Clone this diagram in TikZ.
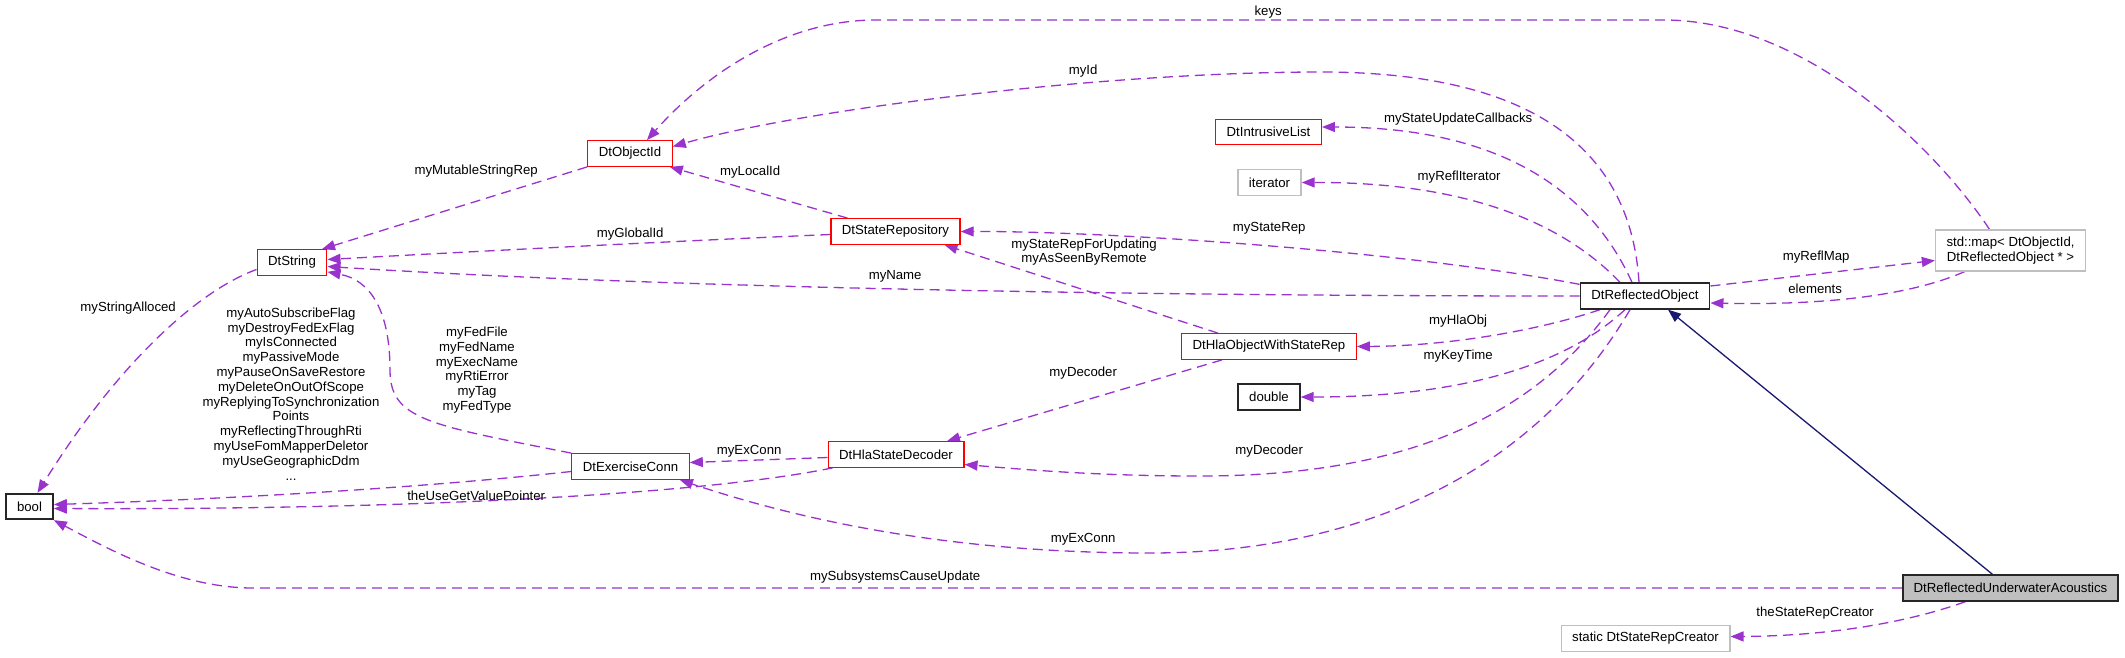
\documentclass[tikz,border=0pt]{standalone}
\usepackage{fontspec}
\setmainfont{Liberation Sans}
\usepackage{tikz}
\usetikzlibrary{arrows.meta,positioning,calc}
\pgfdeclarelayer{bg}
\pgfsetlayers{bg,main}
\definecolor{usecol}{RGB}{154,50,205}
\definecolor{inhcol}{RGB}{25,25,112}
\definecolor{graycol}{RGB}{191,191,191}

\begin{document}
\begin{tikzpicture}[x=1pt,y=-1pt,
    every node/.style={font=\fontsize{13.2}{14.8}\selectfont},
    cls/.style={draw=red,line width=1.3pt,fill=white,minimum height=25.5pt,inner xsep=11pt,inner ysep=0pt},
    blk/.style={cls,draw=black!85,line width=1.8pt},
    ext/.style={cls,draw=graycol},
    lbl/.style={align=center,inner sep=0pt},
    usedby/.style={draw=usecol,line width=1.3pt,dash pattern=on 10pt off 6pt,-{Triangle[length=13pt,width=10pt]}},
    inh/.style={draw=inhcol,line width=1.3pt,-{Triangle[length=13pt,width=10pt]}}]

    \useasboundingbox (0,0) rectangle (2125,657);

    \node [blk] (bool) at (29.5,506.5) { bool };
    \node [cls] (dtstring) at (292,262.5) { DtString };
    \node [cls] (objid) at (630,153.5) { DtObjectId };
    \node [cls] (staterep) at (895.5,231.5) { DtStateRepository };
    \node [cls] (exconn) at (630.5,466.5) { DtExerciseConn };
    \node [cls] (decoder) at (896,454.5) { DtHlaStateDecoder };
    \node [cls] (intrlist) at (1268.5,132) { DtIntrusiveList };
    \node [ext] (iter) at (1269.5,182.5) { iterator };
    \node [cls] (hlaobj) at (1269,346.5) { DtHlaObjectWithStateRep };
    \node [blk] (dbl) at (1269,397) { double };
    \node [blk] (reflobj) at (1645,296) { DtReflectedObject };
    \node [ext,align=center,minimum height=41pt] (refmap) at (2010.5,250.5) { std::map\textless{} DtObjectId,\\ DtReflectedObject * \textgreater{} };
    \node [blk,fill=graycol] (acoustics) at (2010.5,588) { DtReflectedUnderwaterAcoustics };
    \node [ext] (creator) at (1645.5,638.5) { static DtStateRepCreator };

    \node [lbl] (keyslbl) at (1270,12) { keys };
    \node [lbl] (idlbl) at (1085,71) { myId };
    \node [lbl] (cblbl) at (1460,119) { myStateUpdateCallbacks };
    \node [lbl] (iterlbl) at (1461,177) { myReflIterator };
    \node [lbl] (replbl) at (1271,228) { myStateRep };
    \node [lbl] (updlbl) at (1084,252) { myStateRepForUpdating\\myAsSeenByRemote };
    \node [lbl] (namelbl) at (897,276) { myName };
    \node [lbl] (locallbl) at (752,172) { myLocalId };
    \node [lbl] (mutlbl) at (478,171) { myMutableStringRep };
    \node [lbl] (globallbl) at (632,234) { myGlobalId };
    \node [lbl] (maplbl) at (1818,257) { myReflMap };
    \node [lbl] (elemlbl) at (1817,289) { elements };
    \node [lbl] (hlalbl) at (1460,321) { myHlaObj };
    \node [lbl] (timelbl) at (1460,356) { myKeyTime };
    \node [lbl] (dec1lbl) at (1085,373) { myDecoder };
    \node [lbl] (dec2lbl) at (1271,451) { myDecoder };
    \node [lbl] (ex1lbl) at (751,451) { myExConn };
    \node [lbl] (ex2lbl) at (1085,539) { myExConn };
    \node [lbl] (alloclbl) at (130,308) { myStringAlloced };
    \node [lbl] (flaglbl) at (291,394) { myAutoSubscribeFlag\\myDestroyFedExFlag\\myIsConnected\\myPassiveMode\\myPauseOnSaveRestore\\myDeleteOnOutOfScope\\myReplyingToSynchronization\\Points\\myReflectingThroughRti\\myUseFomMapperDeletor\\myUseGeographicDdm\\... };
    \node [lbl] (fedlbl) at (477,370) { myFedFile\\myFedName\\myExecName\\myRtiError\\myTag\\myFedType };
    \node [lbl] (getlbl) at (478,496) { theUseGetValuePointer };
    \node [lbl] (subslbl) at (897,577) { mySubsystemsCauseUpdate };
    \node [lbl] (creatorlbl) at (1817,613) { theStateRepCreator };

    \begin{pgfonlayer}{bg}    % edges behind the boxes
        \draw [usedby] ([xshift=-21]refmap.north) .. controls (1930,140) and (1800,20) .. (1664,20) -- (876,20) .. controls (780,20) and (700,80) .. ([xshift=17]objid.north);
        \draw [usedby] ([xshift=-6]reflobj.north) .. controls (1630,140) and (1520,72) .. (1321,72) .. controls (1100,72) and (800,110) .. ([yshift=7]objid.east);
        \draw [usedby] ([xshift=-13]reflobj.north) .. controls (1590,190) and (1500,127) .. ([yshift=5]intrlist.east);
        \draw [usedby] ([xshift=-25]reflobj.north) .. controls (1570,230) and (1480,182) .. (iter.east);
        \draw [usedby] ([yshift=-2]reflobj.north west) .. controls (1400,250) and (1100,231) .. (staterep.east);
        \draw [usedby] (reflobj.west) .. controls (1200,296) and (700,290) .. ([yshift=-4]dtstring.east);
        \draw [usedby] ([yshift=-3]staterep.west) .. controls (700,240) and (500,250) .. ([yshift=3]dtstring.east);
        \draw [usedby] ([xshift=-48]staterep.north) -- ([xshift=-3]objid.south east);
        \draw [usedby] (objid.south west) -- ([xshift=30]dtstring.north);
        \draw [usedby] ([yshift=-7]dtstring.west) .. controls (200,290) and (120,360) .. ([xshift=8]bool.north);
        \draw [usedby] (exconn.north west) .. controls (430,425) and (390,420) .. (390,370) .. controls (390,310) and (370,280) .. ([yshift=4]dtstring.south east);
        \draw [usedby] ([yshift=-5]exconn.west) .. controls (400,490) and (200,500) .. ([yshift=2]bool.east);
        \draw [usedby] ([xshift=5]decoder.south west) .. controls (700,495) and (400,510) .. ([yshift=-2]bool.east);
        \draw [usedby] ([yshift=-3]decoder.west) -- ([yshift=4]exconn.east);
        \draw [usedby] ([xshift=-47]hlaobj.south) -- ([xshift=51]decoder.north);
        \draw [usedby] ([xshift=-51]hlaobj.north) -- ([xshift=49]staterep.south);
        \draw [usedby] ([xshift=-45]reflobj.south) .. controls (1540,330) and (1450,346) .. (hlaobj.east);
        \draw [usedby] ([xshift=-20]reflobj.south) .. controls (1560,370) and (1450,397) .. (dbl.east);
        \draw [usedby] ([xshift=-35]reflobj.south) .. controls (1530,420) and (1400,476) .. (1200,476) .. controls (1100,476) and (1030,470) .. ([yshift=-10]decoder.east);
        \draw [usedby] ([xshift=-15]reflobj.south) .. controls (1530,480) and (1350,553) .. (1150,553) .. controls (950,553) and (800,520) .. ([xshift=-10]exconn.south east);
        \draw [usedby] (acoustics.west) -- (253,588) .. controls (180,588) and (110,550) .. (bool.south east);
        \draw [usedby] ([xshift=-45]acoustics.south) .. controls (1900,625) and (1820,636) .. ([yshift=2]creator.east);
        \draw [usedby] ([xshift=-46]refmap.south) .. controls (1900,300) and (1800,305) .. ([yshift=-7]reflobj.east);
        \draw [usedby] ([yshift=10]reflobj.east) -- ([yshift=-10]refmap.west);
        \draw [inh] ([xshift=-18]acoustics.north) -- ([xshift=23]reflobj.south);
    \end{pgfonlayer}
\end{tikzpicture}
\end{document}
